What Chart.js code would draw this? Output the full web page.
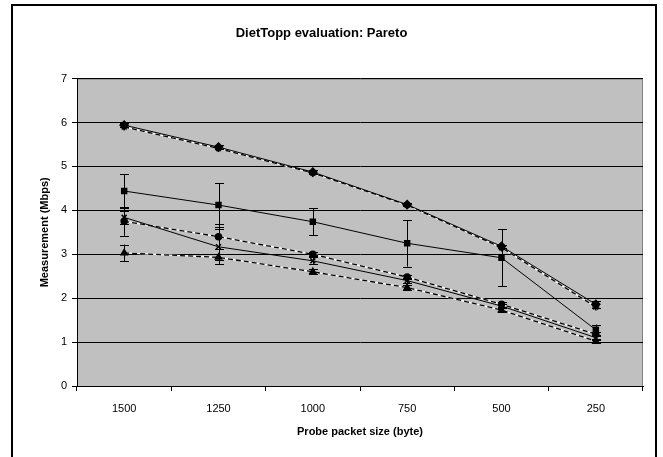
<!DOCTYPE html>
<html>
<head>
<meta charset="utf-8">
<script src="https://cdn.jsdelivr.net/npm/chart.js@4"></script>
<style>
  html, body { margin: 0; padding: 0; background: #fff; }
  canvas { display: block; }
</style>
</head>
<body>
<canvas id="pareto" width="663" height="457"></canvas>
<script>
// Probe packet sizes (x categories)
const sizes = ['1500', '1250', '1000', '750', '500', '250'];

const diamondVals = [5.94, 5.44, 4.87, 4.13, 3.18, 1.86];
const diamondErr = [0.04, 0.04, 0.04, 0.04, 0.04, 0.08];
const starVals = [5.90, 5.41, 4.85, 4.12, 3.15, 1.80];
const squareVals = [4.44, 4.12, 3.74, 3.25, 2.92, 1.28];
const squareErr = [0.38, 0.50, 0.31, 0.53, 0.65, 0.12];
const crossVals = [3.84, 3.17, 2.85, 2.40, 1.82, 1.10];
const crossErr = [0.15, 0.40, 0.08, 0.06, 0.05, 0.05];
const circleVals = [3.75, 3.40, 3.00, 2.48, 1.86, 1.18];
const circleErr = [0.33, 0.28, 0.05, 0.05, 0.05, 0.05];
const triangleVals = [3.03, 2.93, 2.60, 2.24, 1.73, 1.02];
const triangleErr = [0.19, 0.07, 0.06, 0.06, 0.05, 0.04];

const yTicks = [0, 1, 2, 3, 4, 5, 6, 7];

// Grey plot area, frame round the whole chart
const backgroundPlugin = {
    id: 'backgroundPlugin',
    beforeDraw: (chart) => {
        const {ctx, chartArea: {top, bottom, left, right}} = chart;
        ctx.save();
        ctx.fillStyle = '#fff';
        ctx.fillRect(0, 0, chart.width, chart.height);
        ctx.fillStyle = '#c0c0c0';
        ctx.fillRect(left, top, right - left, bottom - top);
        // plot area border (top and right)
        ctx.strokeStyle = '#808080';
        ctx.lineWidth = 1;
        ctx.beginPath();
        ctx.moveTo(left, top + 0.5);
        ctx.lineTo(right - 0.5, top + 0.5);
        ctx.lineTo(right - 0.5, bottom);
        ctx.stroke();
        // outer frame
        ctx.strokeStyle = '#000';
        ctx.lineWidth = 2;
        ctx.beginPath();
        ctx.moveTo(12, chart.height + 5);
        ctx.lineTo(12, 5);
        ctx.lineTo(656, 5);
        ctx.lineTo(656, chart.height + 5);
        ctx.stroke();
        ctx.restore();
    }
};

// Vertical error bars with caps
const errorBarPlugin = {
    id: 'errorBarPlugin',
    afterDatasetsDraw: (chart) => {
        const {ctx, scales: {x, y}} = chart;
        ctx.save();
        ctx.strokeStyle = '#000';
        ctx.lineWidth = 1;
        chart.data.datasets.forEach(function(ds) {
            if (!ds.errors) return;
            ds.data.forEach(function(v, i) {
                const px = Math.round(x.getPixelForValue(i)) + 0.5;
                const yHi = y.getPixelForValue(v + ds.errors[i]);
                const yLo = y.getPixelForValue(v - ds.errors[i]);
                ctx.beginPath();
                ctx.moveTo(px, yHi);
                ctx.lineTo(px, yLo);
                ctx.moveTo(px - 4.5, Math.round(yHi) + 0.5);
                ctx.lineTo(px + 4.5, Math.round(yHi) + 0.5);
                ctx.moveTo(px - 4.5, Math.round(yLo) + 0.5);
                ctx.lineTo(px + 4.5, Math.round(yLo) + 0.5);
                ctx.stroke();
            });
        });
        ctx.restore();
    }
};

function solidSeries(label, data, style, radius, errors) {
    return {
        label: label,
        data: data,
        errors: errors,
        borderColor: '#000',
        borderWidth: 1,
        backgroundColor: '#000',
        pointStyle: style,
        pointRadius: radius,
        pointBorderWidth: 1.5,
        pointBorderColor: '#000',
        pointBackgroundColor: '#000',
        tension: 0,
        order: 1
    };
}

function dashedSeries(label, data, style, radius, errors) {
    return {
        label: label,
        data: data,
        errors: errors,
        borderColor: '#000',
        borderWidth: 1.3,
        borderDash: [5, 3],
        backgroundColor: '#000',
        pointStyle: style,
        pointRadius: radius,
        pointBorderWidth: 1.5,
        pointBorderColor: '#000',
        pointBackgroundColor: '#000',
        tension: 0,
        order: 1
    };
}

// white line under each dashed series so the gaps show white
function whiteBase(data) {
    return {
        label: '',
        data: data,
        borderColor: '#fff',
        borderWidth: 1.3,
        pointRadius: 0,
        tension: 0,
        order: 10
    };
}

const ctx = document.getElementById('pareto').getContext('2d');

const paretoChart = new Chart(ctx, {
    type: 'line',
    data: {
        labels: sizes,
        datasets: [
            whiteBase(starVals),
            whiteBase(circleVals),
            whiteBase(triangleVals),
            solidSeries('diamond', diamondVals, 'rectRot', 4, diamondErr),
            dashedSeries('star', starVals, 'star', 3.5, null),
            solidSeries('square', squareVals, 'rect', 3.5, squareErr),
            solidSeries('cross', crossVals, 'crossRot', 3.5, crossErr),
            dashedSeries('circle', circleVals, 'circle', 3, circleErr),
            dashedSeries('triangle', triangleVals, 'triangle', 3.5, triangleErr)
        ]
    },
    options: {
        responsive: false,
        animation: false,
        layout: {
            padding: {left: 0, right: 20, top: 0, bottom: 0}
        },
        plugins: {
            legend: {display: false},
            tooltip: {enabled: false},
            title: {
                display: true,
                text: 'DietTopp evaluation: Pareto',
                color: '#000',
                font: {family: 'Liberation Sans', size: 13, weight: 'bold'},
                padding: {top: 26, bottom: 37}
            }
        },
        scales: {
            x: {
                offset: true,
                afterFit: function(scale) { scale.height = 71; },
                grid: {
                    offset: true,
                    drawOnChartArea: false,
                    drawTicks: true,
                    tickLength: 5,
                    tickColor: '#000'
                },
                border: {color: '#000', width: 1},
                ticks: {
                    color: '#000',
                    padding: 11,
                    font: {family: 'Liberation Sans', size: 11}
                },
                title: {
                    display: true,
                    text: 'Probe packet size (byte)',
                    color: '#000',
                    font: {family: 'Liberation Sans', size: 11, weight: 'bold'},
                    padding: {top: 0, bottom: 18}
                }
            },
            y: {
                min: 0,
                max: 7,
                afterFit: function(scale) { scale.width = 77; },
                afterBuildTicks: function(scale) {
                    scale.ticks = yTicks.map(function(v) { return {value: v}; });
                },
                grid: {
                    color: '#000',
                    lineWidth: 1,
                    tickLength: 5,
                    tickColor: '#000'
                },
                border: {color: '#000', width: 1},
                ticks: {
                    color: '#000',
                    padding: 5,
                    font: {family: 'Liberation Sans', size: 11}
                },
                title: {
                    display: true,
                    text: 'Measurement (Mbps)',
                    color: '#000',
                    font: {family: 'Liberation Sans', size: 11, weight: 'bold'},
                    padding: {top: 38, bottom: 0}
                }
            }
        }
    },
    plugins: [backgroundPlugin, errorBarPlugin]
});
</script>
</body>
</html>
